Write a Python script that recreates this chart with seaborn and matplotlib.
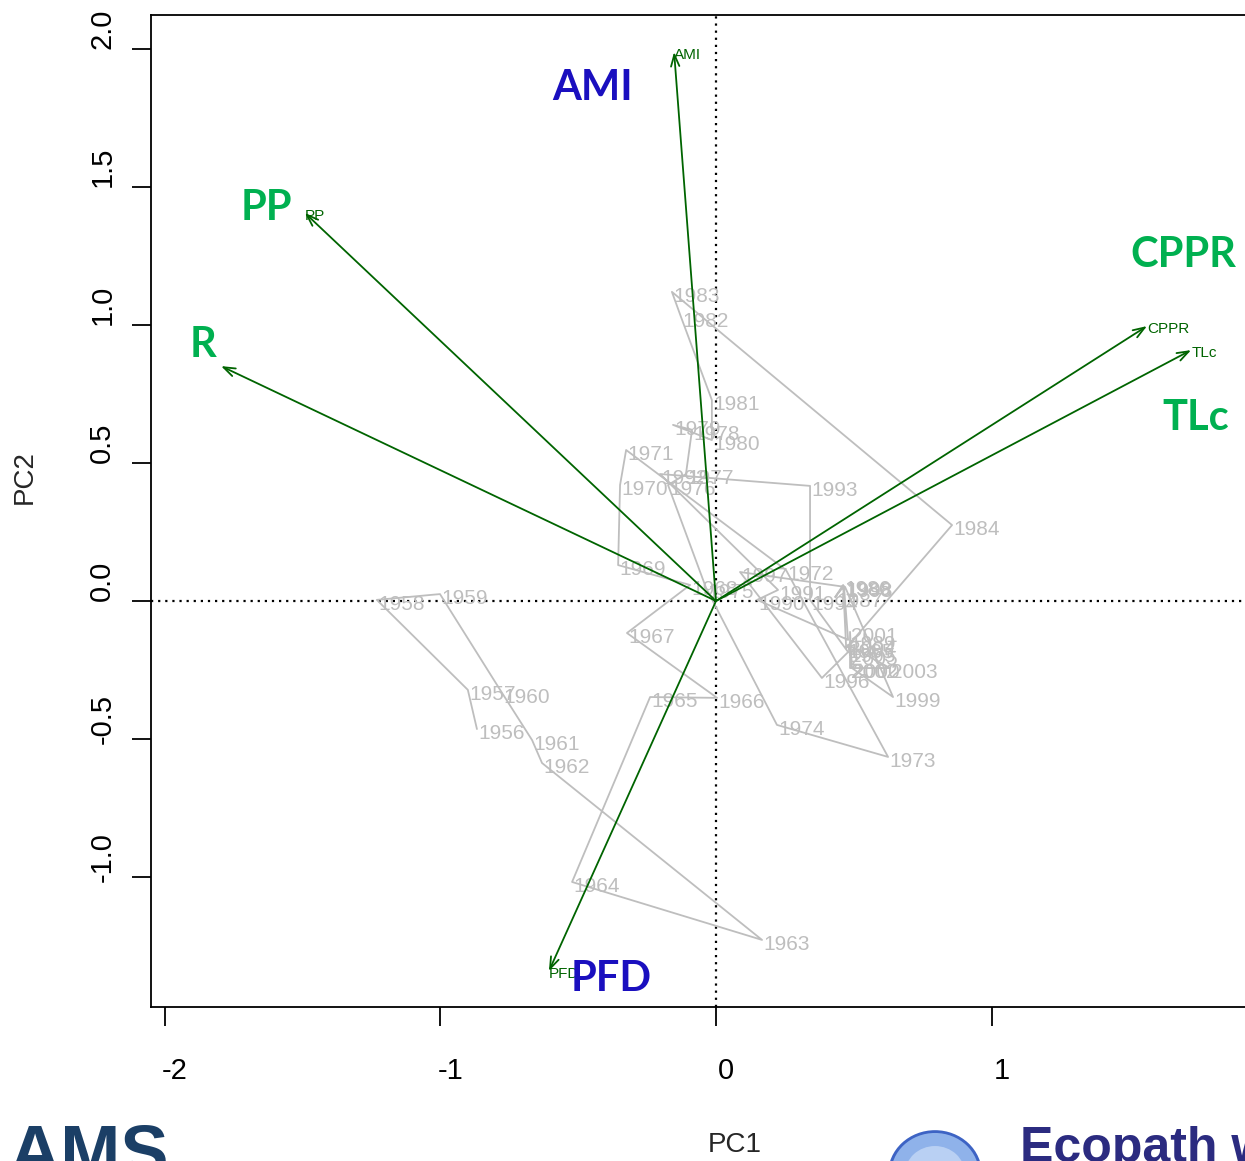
import matplotlib
matplotlib.use("Agg")
import matplotlib.pyplot as plt
import matplotlib.transforms as mtransforms
from matplotlib.patches import Circle
import numpy as np
import pandas as pd
import seaborn as sns

# Year scores on the first two principal components
years = list(range(1956, 2006))
pc1 = [-0.867, -0.900, -1.230, -1.001, -0.776, -0.667, -0.631, 0.167, -0.522, -0.239,
       0.004, -0.323, -0.094, -0.355, -0.348, -0.326, 0.254, 0.624, 0.221, -0.036,
       -0.174, -0.109, -0.087, -0.156, -0.015, -0.015, -0.127, -0.160, 0.856, 0.472,
       0.461, 0.432, 0.464, 0.479, 0.149, 0.225, -0.203, 0.341, 0.341, 0.479,
       0.384, 0.087, 0.468, 0.642, 0.493, 0.486, 0.486, 0.631, 0.479, 0.486]
pc2 = [-0.464, -0.322, 0.004, 0.025, -0.333, -0.504, -0.587, -1.228, -1.018, -0.348,
       -0.351, -0.116, 0.058, 0.130, 0.420, 0.547, 0.112, -0.565, -0.449, 0.047,
       0.420, 0.460, 0.620, 0.638, 0.583, 0.728, 1.029, 1.120, 0.275, -0.170,
       0.058, 0.014, 0.054, -0.141, 0.004, 0.040, 0.460, 0.417, 0.004, -0.185,
       -0.279, 0.105, 0.051, -0.348, -0.243, -0.112, -0.243, -0.243, -0.159, -0.196]

# Variable loadings (arrows)
variables = ["AMI", "PP", "R", "CPPR", "TLc", "PFD"]
load1 = [-0.152, -1.491, -1.795, 1.563, 1.723, -0.606]
load2 = [1.989, 1.406, 0.851, 0.996, 0.909, -1.341]
small_label = [True, True, False, True, True, True]

# Large highlighted variable names
big_names = ["AMI", "PP", "R", "CPPR", "TLc", "PFD"]
big_x = [-0.446, -1.632, -1.861, 1.694, 1.741, -0.381]
big_y = [1.859, 1.424, 0.928, 1.254, 0.663, -1.370]
big_colors = ["#1a0fbf", "#00b050", "#00b050", "#00b050", "#00b050", "#1a0fbf"]

x_ticks = [-2, -1, 0, 1]
y_ticks = [-1.0, -0.5, 0.0, 0.5, 1.0, 1.5, 2.0]

sns.set_theme(style="white")
plt.rcParams["font.family"] = ["Liberation Sans", "DejaVu Sans"]

W, H = 1245, 1161
fig = plt.figure(figsize=(W / 100, H / 100), dpi=100)
ax = fig.add_axes([151 / W, 1 - 1007 / H, (1270 - 151) / W, (1007 - 15) / H])
ax.set_xlim(-2.049, 2.009)
ax.set_ylim(-1.471, 2.123)

df = pd.DataFrame({"year": years, "PC1": pc1, "PC2": pc2})
grey = "#bebebe"
sns.lineplot(data=df, x="PC1", y="PC2", sort=False, estimator=None,
             color=grey, lw=1.3, ax=ax, zorder=2)
for _, r in df.iterrows():
    ax.annotate(str(int(r["year"])), (r["PC1"], r["PC2"]), xytext=(1, -3),
                textcoords="offset points", color=grey, fontsize=15,
                ha="left", va="center", zorder=3)

# Reference lines through the origin
ax.axhline(0, color="black", lw=1.6, ls=(0, (1, 2.2)), zorder=1)
ax.axvline(0, color="black", lw=1.6, ls=(0, (1, 2.2)), zorder=1)

dark_green = "#006400"
for name, lx, ly, show in zip(variables, load1, load2, small_label):
    ax.annotate("", xy=(lx, ly), xytext=(0, 0),
                arrowprops=dict(arrowstyle="->,head_length=0.7,head_width=0.25",
                                color=dark_green, lw=1.3, shrinkA=0, shrinkB=0),
                zorder=4)
    if show:
        ax.annotate(name, (lx, ly), xytext=(0, -2), textcoords="offset points",
                    color=dark_green, fontsize=11, ha="left", va="center", zorder=5)

for name, bx, by, c in zip(big_names, big_x, big_y, big_colors):
    ax.text(bx, by, name, color=c, fontsize=30, fontweight="bold",
            family=["Lato", "DejaVu Sans"], ha="center", va="center", zorder=6)

# Axes frame and ticks
for s in ["left", "bottom", "top", "right"]:
    ax.spines[s].set_visible(True)
    ax.spines[s].set_color("black")
    ax.spines[s].set_linewidth(1.3)
ax.grid(False)
ax.set_xticks(x_ticks)
ax.set_xticklabels([f"{v:g}" for v in x_ticks])
ax.set_yticks(y_ticks)
ax.set_yticklabels([f"{v:.1f}" for v in y_ticks], rotation=90, va="center")
ax.tick_params(axis="both", direction="out", length=14, width=1.3, color="black",
               labelsize=21, labelcolor="black", bottom=True, left=True)
ax.tick_params(axis="x", pad=22)
ax.tick_params(axis="y", pad=11)
for lab in ax.get_xticklabels():
    lab.set_transform(lab.get_transform() +
                      mtransforms.ScaledTranslation(0.10, 0, fig.dpi_scale_trans))
for lab in ax.get_yticklabels():
    lab.set_transform(lab.get_transform() +
                      mtransforms.ScaledTranslation(0, 0.20, fig.dpi_scale_trans))
ax.set_xlabel("")
ax.set_ylabel("")

fig.text(735 / W, 1 - 1145 / H, "PC1", fontsize=20, ha="center", va="center")
fig.text(25 / W, 1 - 477 / H, "PC2", fontsize=20, ha="center", va="center",
         rotation=90)

# Footer logos
fig.text(8 / W, 1 - 1122 / H, "AMS", fontsize=52, fontweight="bold",
         color="#1b3f66", ha="left", va="top")
for rad, col in [(47, "#3d63c4"), (44, "#8fb2ea"), (30, "#b9d0f3"), (14, "#dde8fa")]:
    fig.patches.append(Circle((935 / W, 1 - 1174 / H), rad / W,
                              transform=fig.transFigure, facecolor=col,
                              edgecolor="none"))
fig.text(1020 / W, 1 - 1126 / H, "Ecopath with Ecosim", fontsize=36,
         fontweight="bold", color="#2b2b80", ha="left", va="top")

fig.savefig("out.png", dpi=100)
